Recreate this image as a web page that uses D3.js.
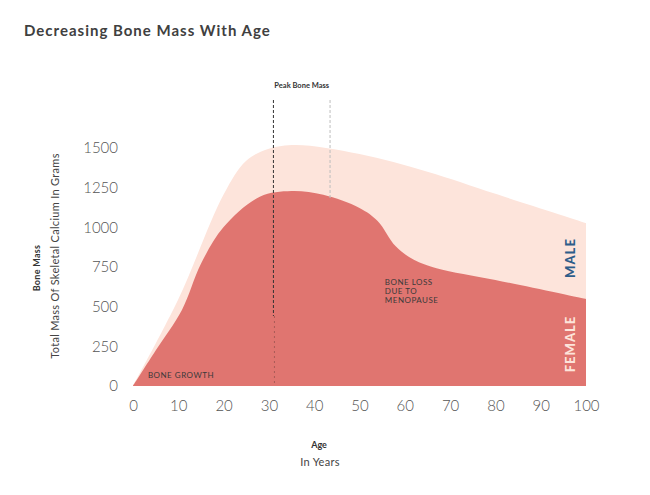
<!DOCTYPE html>
<html><head><meta charset="utf-8">
<script src="https://cdn.jsdelivr.net/npm/d3@7"></script>
<style>
body{margin:0;background:#fff}
svg{display:block}
text{font-family:Lato,"Open Sans",sans-serif}
</style>
</head><body>
<svg id="chart" width="650" height="495"></svg>
<script>
const title = "Decreasing Bone Mass With Age";
const maleAges   = [0, 10, 20, 25, 30, 36, 50, 65, 80, 100];
const maleValues = [0, 546, 1207, 1420, 1495, 1519, 1462, 1350, 1211, 1027];
const femaleAges   = [0, 5, 10.8, 15, 20, 28, 35, 42, 50, 54, 58, 62, 67, 80, 100];
const femaleValues = [0, 223, 479, 770, 1002, 1193, 1229, 1205, 1122, 1040, 880, 795, 742, 668, 548];
const xTicks = [0, 10, 20, 30, 40, 50, 60, 70, 80, 90, 100];
const yTicks = [0, 250, 500, 750, 1000, 1250, 1500];
const peakAges = [31, 43.5];
const annotations = [
  {age: 3.3, value: 50, lines: ["BONE GROWTH"]},
  {age: 55.6, value: 635, lines: ["BONE LOSS", "DUE TO", "MENOPAUSE"]}
];

const svg = d3.select("#chart");
const x = d3.scaleLinear().domain([0, 100]).range([133, 586]);
const y = d3.scaleLinear().domain([0, 1500]).range([386, 148]);

const maleColor = "#fde4db";
const femaleColor = "#e07570";

svg.append("text").attr("x", 24).attr("y", 36)
  .attr("font-size", 15).attr("font-weight", 700).attr("letter-spacing", 1)
  .attr("fill", "#404040").text(title);

const male = maleAges.map((a, i) => ({a, v: maleValues[i]}));
const female = femaleAges.map((a, i) => ({a, v: femaleValues[i]}));

const area = d3.area().x(d => x(d.a)).y0(y(0)).y1(d => y(d.v)).curve(d3.curveCatmullRom.alpha(0.5));

svg.append("path").datum(male).attr("d", area).attr("fill", maleColor);
svg.append("path").datum(female).attr("d", area).attr("fill", femaleColor);

// peak bone mass lines
const femaleAt = d3.scaleLinear().domain(femaleAges).range(femaleValues);
svg.append("line").attr("x1", x(peakAges[0])).attr("x2", x(peakAges[0]))
  .attr("y1", 100).attr("y2", 316).attr("stroke", "#333").attr("stroke-width", 1)
  .attr("stroke-dasharray", "3,2");
svg.append("line").attr("x1", x(peakAges[0]) + 1).attr("x2", x(peakAges[0]) + 1)
  .attr("y1", 316).attr("y2", y(0)).attr("stroke", "#a85a57").attr("stroke-width", 1)
  .attr("stroke-dasharray", "2,3");
svg.append("line").attr("x1", x(peakAges[1])).attr("x2", x(peakAges[1]))
  .attr("y1", 100).attr("y2", y(femaleAt(peakAges[1])) + 2).attr("stroke", "#bdbdbd").attr("stroke-width", 1)
  .attr("stroke-dasharray", "3,2");
svg.append("text").attr("x", (x(peakAges[0]) + x(peakAges[1])) / 2).attr("y", 88)
  .attr("text-anchor", "middle").attr("font-size", 7.5).attr("font-weight", 700)
  .attr("fill", "#333").text("Peak Bone Mass");

// axes
const yAxis = svg.append("g").attr("transform", "translate(118,0)")
  .call(d3.axisLeft(y).tickValues(yTicks).tickFormat(d3.format("d")).tickSize(0).tickPadding(0));
yAxis.select(".domain").remove();
yAxis.selectAll("text").attr("font-size", 15).attr("font-weight", 300).attr("fill", "#555")
  .style("font-family", "Lato, sans-serif");

const xAxis = svg.append("g").attr("transform", "translate(0,400)")
  .call(d3.axisBottom(x).tickValues(xTicks).tickFormat(d3.format("d")).tickSize(0).tickPadding(0));
xAxis.select(".domain").remove();
xAxis.selectAll("text").attr("font-size", 15).attr("font-weight", 300).attr("fill", "#555")
  .style("font-family", "Lato, sans-serif");

// axis titles
svg.append("text").attr("transform", "translate(40,268) rotate(-90)")
  .attr("text-anchor", "middle").attr("font-size", 9).attr("font-weight", 700).attr("letter-spacing", 0.3).attr("fill", "#333")
  .text("Bone Mass");
svg.append("text").attr("transform", "translate(59,256) rotate(-90)")
  .attr("text-anchor", "middle").attr("font-size", 11).attr("letter-spacing", 0.3).attr("fill", "#444")
  .text("Total Mass Of Skeletal Calcium In Grams");
svg.append("text").attr("x", 319).attr("y", 448)
  .attr("text-anchor", "middle").attr("font-size", 9).attr("font-weight", 700).attr("fill", "#333")
  .text("Age");
svg.append("text").attr("x", 320).attr("y", 466)
  .attr("text-anchor", "middle").attr("font-size", 11).attr("letter-spacing", 0.3).attr("fill", "#444")
  .text("In Years");

// series labels
svg.append("text").attr("transform", "translate(575,258) rotate(-90)")
  .attr("text-anchor", "middle").attr("font-size", 13).attr("font-weight", 900)
  .attr("letter-spacing", 1).attr("fill", "#2e5d8a").text("MALE");
svg.append("text").attr("transform", "translate(575,344) rotate(-90)")
  .attr("text-anchor", "middle").attr("font-size", 13).attr("font-weight", 900)
  .attr("letter-spacing", 1).attr("fill", "#fde4db").text("FEMALE");

// annotations
annotations.forEach(an => {
  const t = svg.append("text").attr("x", x(an.age)).attr("y", y(an.value))
    .attr("font-size", 8).attr("letter-spacing", 0.5).attr("fill", "#3a3a3a");
  an.lines.forEach((l, i) => t.append("tspan").attr("x", x(an.age)).attr("dy", i ? 9 : 0).text(l));
});
</script>
</body></html>
